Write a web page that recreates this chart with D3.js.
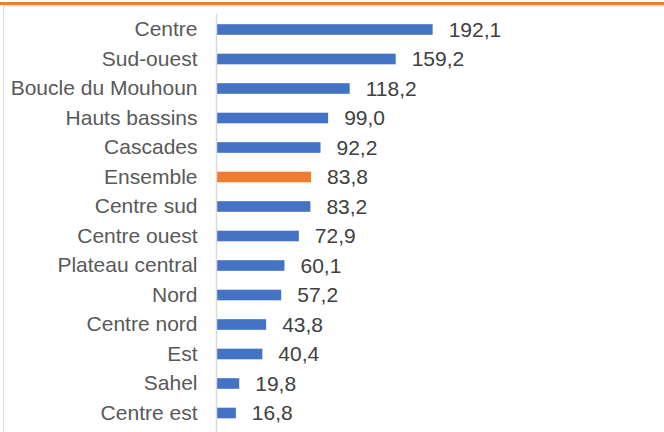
<!DOCTYPE html>
<html><head><meta charset="utf-8">
<script src="https://cdn.jsdelivr.net/npm/d3@7"></script>
<style>body{margin:0;background:#fff}svg{display:block}</style>
</head><body>
<svg id="c" width="664" height="432"></svg>
<script>
const categories = ["Centre","Sud-ouest","Boucle du Mouhoun","Hauts bassins","Cascades","Ensemble","Centre sud","Centre ouest","Plateau central","Nord","Centre nord","Est","Sahel","Centre est"];
const values = [192.1,159.2,118.2,99.0,92.2,83.8,83.2,72.9,60.1,57.2,43.8,40.4,19.8,16.8];
const highlight = ["Ensemble"];

const svg = d3.select("#c");
const W = 664, H = 432;
// frame
svg.append("rect").attr("x",3.5).attr("y",6).attr("width",W).attr("height",H).attr("fill","#fff").attr("stroke","#d9d9d9").attr("stroke-width",1);
svg.append("rect").attr("x",0).attr("y",2).attr("width",W).attr("height",3).attr("fill","#ED7D31");

const x = d3.scaleLinear().domain([0,200]).range([217,217+224.5]);
const y = d3.scaleBand().domain(categories).range([14.75,14.75+29.5*14]).paddingInner(0.64).paddingOuter(0.32);

const fmt = v => d3.format(".1f")(v).replace(".",",");
const FONT = "'Liberation Sans', Arial, sans-serif";

svg.append("g").selectAll("rect").data(categories).join("rect")
  .attr("x", x(0))
  .attr("y", d => y(d))
  .attr("height", y.bandwidth())
  .attr("width", (d,i) => x(values[i]) - x(0))
  .attr("fill", d => highlight.includes(d) ? "#ED7D31" : "#4472C4");

// axis
const ax = svg.append("g").attr("transform",`translate(${x(0)-0.5},0)`)
  .call(d3.axisLeft(y).tickSize(0).tickPadding(19));
ax.select(".domain").attr("stroke","#d9d9d9").attr("stroke-width",1.5).attr("d",`M0,14V${H}`);
ax.selectAll("text").attr("font-family",FONT).attr("font-size",21).attr("fill","#595959");

svg.append("g").selectAll("text").data(categories).join("text")
  .attr("x", (d,i) => x(values[i]) + 16)
  .attr("y", d => y(d) + y.bandwidth()/2)
  .attr("dy","0.35em")
  .attr("font-family",FONT)
  .attr("font-size",21).attr("fill","#404040")
  .text((d,i) => fmt(values[i]));
</script>
</body></html>
